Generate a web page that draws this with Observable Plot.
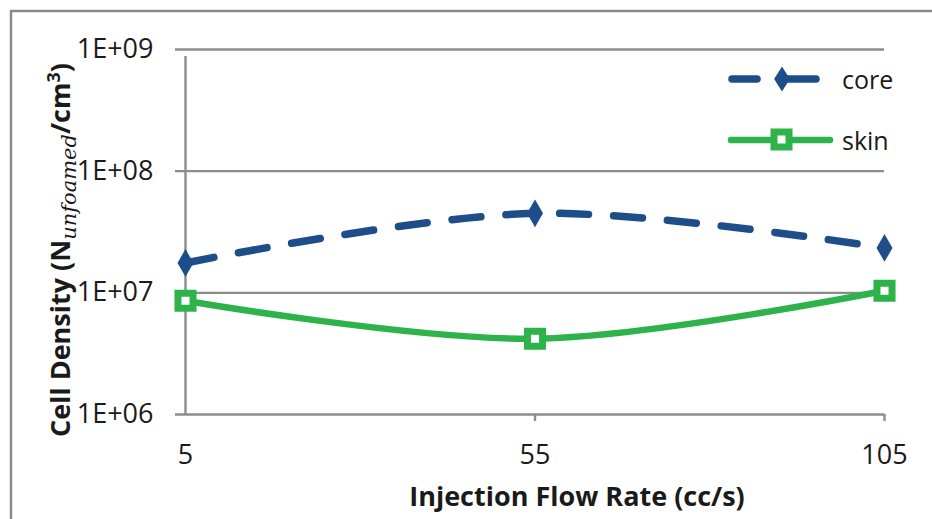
<!DOCTYPE html>
<html>
<head>
<meta charset="utf-8">
<script src="https://cdn.jsdelivr.net/npm/d3@7"></script>
<script src="https://cdn.jsdelivr.net/npm/@observablehq/plot@0.6"></script>
<style>
  html, body { margin: 0; padding: 0; background: #fff; }
  #chart { position: relative; width: 932px; height: 519px; overflow: hidden; }
</style>
</head>
<body>
<div id="chart"></div>
<script>
// Data
const flowRates = [5, 55, 105];
const coreValues = [1.76e7, 4.5e7, 2.34e7];
const skinValues = [8.6e6, 4.2e6, 1.04e7];
const yTicks = [1e6, 1e7, 1e8, 1e9];
const yTickLabels = ["1E+06", "1E+07", "1E+08", "1E+09"];
const seriesNames = ["core", "skin"];

const core = flowRates.map((x, i) => ({x, y: coreValues[i]}));
const skin = flowRates.map((x, i) => ({x, y: skinValues[i]}));

const blue = "#1d4e89";
const green = "#2db34a";
const gridColor = "#8c8c8c";
const font = "'Open Sans', 'Liberation Sans', sans-serif";

const plot = Plot.plot({
  width: 932,
  height: 519,
  marginLeft: 185,
  marginRight: 48,
  marginTop: 49,
  marginBottom: 105,
  style: {fontFamily: font, fontSize: "27px", background: "transparent", overflow: "visible"},
  x: {domain: [5, 105], ticks: flowRates, tickFormat: d => String(d), label: null},
  y: {type: "log", domain: [1e6, 1e9], ticks: yTicks, label: null},
  marks: [
    Plot.ruleY(yTicks, {x1: 5, x2: 105, stroke: gridColor, strokeWidth: 2.4, insetLeft: -10}),
    Plot.ruleX([5], {y1: 1e6, y2: 1e9, stroke: gridColor, strokeWidth: 2.4, insetBottom: -7}),
    Plot.ruleX([55, 105], {y1: 1e6, y2: 1e6, stroke: gridColor, strokeWidth: 2.4, insetBottom: -7}),
    Plot.axisY({ticks: yTicks, tickFormat: d => yTickLabels[yTicks.indexOf(d)], tickSize: 0, tickPadding: 32,
      fontSize: 27, fill: "#1a1a1a", label: null}),
    Plot.axisX({ticks: flowRates, tickSize: 0, tickPadding: 30, fontSize: 27, fill: "#1a1a1a", label: null}),
    Plot.line(core, {x: "x", y: "y", stroke: blue, strokeWidth: 7.5, strokeDasharray: "29,25",
      strokeLinecap: "round", curve: "catmull-rom"}),
    Plot.dot(core, {x: "x", y: "y", symbol: "diamond", r: 7.5, fill: blue, stroke: blue, strokeWidth: 1.5}),
    Plot.line(skin, {x: "x", y: "y", stroke: green, strokeWidth: 6.5, curve: "catmull-rom"}),
    Plot.dot(skin, {x: "x", y: "y", symbol: "square", r: 8.5, fill: "#fff", stroke: green, strokeWidth: 7})
  ]
});

const root = document.getElementById("chart");
root.appendChild(plot);

const svg = d3.select(plot);

// tick label font
svg.selectAll("text").style("font-size", "27px").style("font-family", font);

// outer frame
svg.insert("rect", ":first-child")
  .attr("x", 11).attr("y", 11).attr("width", 940).attr("height", 540)
  .attr("fill", "none").attr("stroke", "#8a8a8a").attr("stroke-width", 2.5);

// x axis title
svg.append("text")
  .attr("x", 577).attr("y", 506)
  .attr("text-anchor", "middle")
  .attr("font-family", font).attr("font-weight", "bold").attr("font-size", 27)
  .attr("fill", "#1a1a1a")
  .text("Injection Flow Rate (cc/s)");

// y axis title with subscript / superscript
const yt = svg.append("text")
  .attr("transform", "translate(70,250) rotate(-90)")
  .attr("text-anchor", "middle")
  .attr("font-family", font).attr("font-weight", "bold").attr("font-size", 27)
  .attr("fill", "#1a1a1a");
yt.append("tspan").text("Cell Density (N");
yt.append("tspan").attr("font-family", "'DejaVu Serif', serif").attr("font-style", "italic")
  .attr("font-weight", "normal").attr("font-size", 21).attr("dy", 6).text("unfoamed");
yt.append("tspan").attr("dy", -6).text("/cm");
yt.append("tspan").attr("font-size", 18).attr("dy", -10).text("3");
yt.append("tspan").attr("dy", 10).text(")");

// legend
const leg = svg.append("g").attr("font-family", font).attr("font-size", 25).attr("fill", "#1a1a1a")
  .attr("text-anchor", "start");
leg.append("line").attr("x1", 732).attr("x2", 757).attr("y1", 79).attr("y2", 79)
  .attr("stroke", blue).attr("stroke-width", 7.5).attr("stroke-linecap", "round");
leg.append("line").attr("x1", 780).attr("x2", 816).attr("y1", 79).attr("y2", 79)
  .attr("stroke", blue).attr("stroke-width", 7.5).attr("stroke-linecap", "round");
leg.append("path").attr("d", "M782,68 L789,79 L782,90 L775,79 Z").attr("fill", blue)
  .attr("stroke", blue).attr("stroke-width", 1.5);
leg.append("text").attr("x", 842).attr("y", 89).text(seriesNames[0]);
leg.append("line").attr("x1", 731).attr("x2", 830).attr("y1", 140).attr("y2", 140)
  .attr("stroke", green).attr("stroke-width", 6.5).attr("stroke-linecap", "round");
leg.append("rect").attr("x", 774).attr("y", 132).attr("width", 15).attr("height", 15)
  .attr("fill", "#fff").attr("stroke", green).attr("stroke-width", 7);
leg.append("text").attr("x", 842).attr("y", 150).text(seriesNames[1]);
</script>
</body>
</html>
